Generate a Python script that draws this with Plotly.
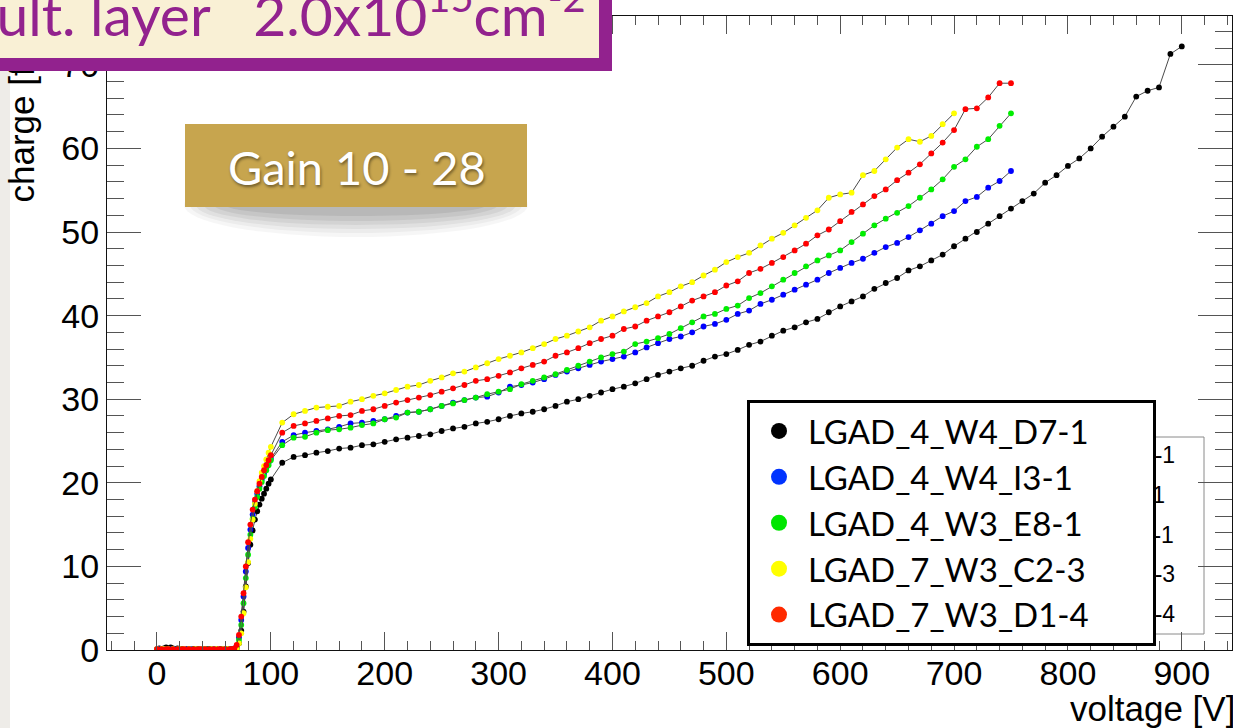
import plotly.graph_objects as go

# ---------------------------------------------------------------- data
# bias voltage settings [V]: fine scan through the gain-layer depletion, then 10 V steps
VOLT_SCAN = [0, 2, 4, 6, 8, 10, 12, 14, 16, 18, 20, 22, 24, 26, 28, 30, 32, 34, 36, 38,
             40, 42, 44, 46, 48, 50, 52, 54, 56, 58, 60, 62, 64, 66, 68, 70, 72, 74, 76, 78,
             80, 82, 84, 86, 88, 90, 92, 94, 96, 98, 100]
VOLT_STEP = [110, 120, 130, 140, 150, 160, 170, 180, 190, 200,
             210, 220, 230, 240, 250, 260, 270, 280, 290, 300,
             310, 320, 330, 340, 350, 360, 370, 380, 390, 400,
             410, 420, 430, 440, 450, 460, 470, 480, 490, 500,
             510, 520, 530, 540, 550, 560, 570, 580, 590, 600,
             610, 620, 630, 640, 650, 660, 670, 680, 690, 700,
             710, 720, 730, 740, 750, 760, 770, 780, 790, 800,
             810, 820, 830, 840, 850, 860, 870, 880, 890, 900]

SENSOR_NAMES = ["LGAD_4_W4_D7-1", "LGAD_4_W4_I3-1", "LGAD_4_W3_E8-1",
                "LGAD_7_W3_C2-3", "LGAD_7_W3_D1-4"]

# collected charge on the fine scan (0-100 V)
CHARGE_SCAN_D7_1 = [0.1, 0.2, 0.1, 0.2, 0.3, 0.2, 0.3, 0.2, 0.1, 0.2, 0.1, 0.1, 0.0, 0.1, 0.1,
                    0.0, 0.1, 0.1, 0.0, 0.1, 0.0, 0.1, 0.1, 0.0, 0.1, 0.0, 0.1, 0.0, 0.1, 0.1,
                    0.0, 0.1, 0.0, 0.1, 0.1,
                    0.2, 0.8, 2.3, 4.6, 7.6, 10.4, 12.6, 14.3, 15.6, 16.6, 17.4, 18.1, 18.7,
                    19.3, 19.9, 20.4]
CHARGE_SCAN_I3_1 = [0.0, 0.1, 0.0, 0.1, 0.0, 0.0, 0.1, 0.0, 0.1, 0.0, 0.1, 0.0, 0.0, 0.1, 0.0,
                    0.1, 0.0, 0.0, 0.1, 0.0, 0.1, 0.0, 0.0, 0.1, 0.0, 0.1, 0.0, 0.0, 0.1, 0.0,
                    0.1, 0.0, 0.1, 0.1, 0.2,
                    0.4, 1.5, 3.6, 6.4, 9.4, 12.2, 14.4, 16.2, 17.6, 18.7, 19.6, 20.4, 21.1,
                    21.8, 22.4, 22.9]
CHARGE_SCAN_E8_1 = [0.0, 0.0, 0.1, 0.0, 0.1, 0.0, 0.0, 0.1, 0.0, 0.1, 0.0, 0.1, 0.0, 0.0, 0.1,
                    0.0, 0.1, 0.0, 0.1, 0.0, 0.0, 0.1, 0.0, 0.1, 0.0, 0.0, 0.1, 0.0, 0.1, 0.0,
                    0.0, 0.1, 0.0, 0.1, 0.1,
                    0.3, 1.2, 3.0, 5.6, 8.6, 11.4, 13.8, 15.7, 17.1, 18.3, 19.3, 20.1, 20.8,
                    21.5, 22.1, 22.7]
CHARGE_SCAN_C2_3 = [0.1, 0.0, 0.1, 0.1, 0.0, 0.1, 0.0, 0.1, 0.0, 0.0, 0.1, 0.0, 0.1, 0.0, 0.1,
                    0.0, 0.0, 0.1, 0.0, 0.1, 0.0, 0.1, 0.0, 0.0, 0.1, 0.0, 0.1, 0.0, 0.0, 0.1,
                    0.0, 0.1, 0.0, 0.0, 0.1,
                    0.2, 0.8, 2.0, 4.4, 7.5, 10.5, 13.3, 15.6, 17.5, 19.0, 20.2, 21.2, 22.0,
                    22.8, 23.6, 24.3]
CHARGE_SCAN_D1_4 = [0.1, 0.0, 0.1, 0.0, 0.1, 0.1, 0.0, 0.1, 0.0, 0.1, 0.0, 0.1, 0.1, 0.0, 0.1,
                    0.0, 0.1, 0.0, 0.1, 0.1, 0.0, 0.1, 0.0, 0.1, 0.0, 0.1, 0.0, 0.1, 0.1, 0.0,
                    0.1, 0.0, 0.1, 0.1, 0.2,
                    0.6, 1.8, 4.0, 6.8, 10.0, 12.9, 15.0, 16.8, 18.0, 19.0, 19.9, 20.7, 21.5,
                    22.1, 22.7, 23.3]

# collected charge on the 10 V steps (from 110 V up to each sensor's last point)
CHARGE_STEP_D7_1 = [22.4, 23.1, 23.3, 23.6, 23.8, 24.1, 24.2, 24.5, 24.6, 24.9,
                    25.2, 25.4, 25.6, 25.8, 26.2, 26.5, 26.7, 27.1, 27.3, 27.6,
                    28.0, 28.3, 28.5, 28.8, 29.2, 29.7, 30.0, 30.4, 30.8, 31.2,
                    31.5, 31.9, 32.4, 32.9, 33.3, 33.7, 34.0, 34.6, 35.1, 35.4,
                    35.9, 36.5, 36.9, 37.6, 38.2, 38.6, 39.2, 39.6, 40.4, 41.1,
                    41.7, 42.3, 43.2, 43.9, 44.5, 45.4, 45.9, 46.6, 47.3, 48.3,
                    49.2, 50.0, 51.0, 51.9, 52.8, 53.7, 54.6, 55.9, 56.8, 57.9,
                    58.8, 60.0, 61.4, 62.6, 63.8, 66.2, 66.9, 67.3, 71.3, 72.2]
CHARGE_STEP_I3_1 = [24.9, 25.7, 26.0, 26.2, 26.4, 26.7, 27.1, 27.2, 27.4, 27.6,
                    28.0, 28.4, 28.5, 28.8, 29.2, 29.6, 29.9, 30.2, 30.3, 30.8,
                    31.5, 31.7, 32.0, 32.4, 32.9, 33.3, 33.7, 34.1, 34.5, 34.8,
                    35.1, 35.6, 36.2, 36.7, 37.2, 37.5, 38.0, 38.7, 39.0, 39.5,
                    40.2, 40.6, 41.4, 41.9, 42.5, 43.1, 43.7, 44.3, 45.1, 45.7,
                    46.3, 46.8, 47.5, 48.2, 48.7, 49.4, 50.2, 51.0, 51.9, 52.5,
                    53.7, 54.2, 55.3, 56.1, 57.3]
CHARGE_STEP_E8_1 = [24.5, 25.4, 25.5, 26.0, 26.3, 26.4, 26.6, 26.9, 27.1, 27.6,
                    27.8, 28.4, 28.5, 28.8, 29.2, 29.5, 29.9, 30.2, 30.6, 30.9,
                    31.2, 31.8, 32.2, 32.6, 33.0, 33.5, 34.0, 34.5, 35.0, 35.4,
                    35.7, 36.6, 36.9, 37.3, 37.8, 38.5, 39.2, 39.9, 40.2, 40.8,
                    41.2, 42.1, 42.7, 43.5, 44.3, 45.1, 45.9, 46.6, 47.2, 47.8,
                    48.8, 49.8, 50.8, 51.6, 52.3, 53.1, 54.1, 55.1, 56.3, 57.8,
                    58.7, 60.2, 61.1, 62.7, 64.2]
CHARGE_STEP_C2_3 = [27.2, 28.2, 28.6, 29.0, 29.1, 29.2, 29.7, 30.0, 30.4, 30.7,
                    31.1, 31.5, 31.7, 32.2, 32.6, 33.1, 33.3, 33.8, 34.3, 34.8,
                    35.2, 35.6, 36.1, 36.6, 37.2, 37.6, 38.1, 38.6, 39.4, 39.9,
                    40.5, 41.0, 41.5, 42.3, 42.8, 43.5, 44.0, 44.8, 45.5, 46.4,
                    47.0, 47.5, 48.4, 49.2, 49.9, 50.8, 51.7, 52.6, 54.1, 54.5,
                    54.7, 56.8, 57.3, 58.7, 60.1, 61.1, 60.8, 61.5, 62.9, 64.2]
CHARGE_STEP_D1_4 = [26.0, 26.8, 27.1, 27.4, 27.7, 28.0, 28.1, 28.6, 28.8, 29.2,
                    29.6, 29.9, 30.2, 30.5, 30.9, 31.3, 31.7, 32.2, 32.4, 32.8,
                    33.2, 33.7, 34.1, 34.5, 35.2, 35.6, 36.1, 36.7, 37.2, 37.6,
                    38.4, 38.7, 39.4, 39.9, 40.4, 41.1, 41.8, 42.3, 42.8, 43.6,
                    44.1, 45.1, 45.6, 46.3, 47.0, 47.8, 48.6, 49.6, 50.3, 51.3,
                    52.4, 53.3, 54.3, 55.1, 56.2, 57.1, 58.1, 59.4, 60.7, 62.2,
                    64.7, 64.8, 66.1, 67.8, 67.8]

X_TICKS = [0, 100, 200, 300, 400, 500, 600, 700, 800, 900]
Y_TICKS = [0, 10, 20, 30, 40, 50, 60, 70]

# ---------------------------------------------------------------- styling
MARKER_COLORS = ["#000000", "#0000ff", "#00ee00", "#ffff00", "#ff0000"]
LEGEND_COLORS = ["#000000", "#0033ff", "#00e600", "#ffff00", "#ff2a00"]
LINE_COLOR = "#4a4a4a"
PURPLE = "#92228e"
CREAM = "#f9f0d5"
GOLD = "#c7a54e"
AXIS_FONT = "Liberation Sans, Arial, Helvetica, sans-serif"
SLIDE_FONT = "Lato, 'Noto Sans', sans-serif"

# frame of the plotting area in page pixels
W, H = 1233, 728
L, R, T, B = 107, 1232, 16, 650


def fx(px):
    return (px - L) / (R - L)


def fy(py):
    return (B - py) / (B - T)


scan_sets = [CHARGE_SCAN_D7_1, CHARGE_SCAN_I3_1, CHARGE_SCAN_E8_1,
             CHARGE_SCAN_C2_3, CHARGE_SCAN_D1_4]
step_sets = [CHARGE_STEP_D7_1, CHARGE_STEP_I3_1, CHARGE_STEP_E8_1,
             CHARGE_STEP_C2_3, CHARGE_STEP_D1_4]

fig = go.Figure()

# sensor curves: thin connecting line underneath, coloured points on top
for name, color, scan, step in zip(SENSOR_NAMES, MARKER_COLORS, scan_sets, step_sets):
    volts = VOLT_SCAN + VOLT_STEP[:len(step)]
    charge = scan + step
    fig.add_trace(go.Scatter(x=volts, y=charge, mode="lines",
                             line=dict(color=LINE_COLOR, width=1),
                             showlegend=False, hoverinfo="skip"))
    fig.add_trace(go.Scatter(x=volts, y=charge, mode="markers", name=name,
                             marker=dict(color=color, size=5.8, line=dict(width=0)),
                             showlegend=False))

# legend entries (large dots only); trailing no-break spaces widen the box
PAD = "\u00a0" * 7
for name, color in zip(SENSOR_NAMES, LEGEND_COLORS):
    fig.add_trace(go.Scatter(x=[None], y=[None], mode="markers", name=name + PAD,
                             marker=dict(color=color, size=16), showlegend=True))

# original ROOT legend partly hidden behind the slide legend
BACK_LEGEND_X = [fx(977)] * 5
BACK_LEGEND_Y = [fy(457), fy(497), fy(537), fy(576), fy(616)]
fig.add_trace(go.Scatter(x=BACK_LEGEND_X, y=BACK_LEGEND_Y, text=SENSOR_NAMES,
                         mode="text", textposition="middle right",
                         textfont=dict(family=AXIS_FONT, size=23, color="black"),
                         xaxis="x2", yaxis="y2", showlegend=False, hoverinfo="skip",
                         cliponaxis=False))

axis_common = dict(showline=True, linecolor="#111111", linewidth=1, mirror="ticks",
                   ticks="inside", tickcolor="#555555", tickwidth=1,
                   showgrid=False, zeroline=False,
                   tickfont=dict(family=AXIS_FONT, size=34, color="black"))

fig.update_layout(
    width=W, height=H, autosize=False,
    margin=dict(l=L, r=W - R, t=T, b=H - B, pad=0),
    paper_bgcolor="white", plot_bgcolor="white",
    xaxis=dict(range=[-43.9, 944.1], tickvals=X_TICKS, ticklen=18,
               ticklabelstandoff=-7,
               minor=dict(ticks="inside", ticklen=9, dtick=20, tick0=0,
                          tickcolor="#555555", showgrid=False),
               **axis_common),
    yaxis=dict(range=[0, 75.84], tickvals=Y_TICKS, ticklen=34,
               minor=dict(ticks="inside", ticklen=17, dtick=2, tick0=0,
                          tickcolor="#555555", showgrid=False),
               **axis_common),
    xaxis2=dict(overlaying="x", range=[0, 1], visible=False),
    yaxis2=dict(overlaying="y", range=[0, 1], visible=False),
    legend=dict(x=fx(747), y=fy(400), xanchor="left", yanchor="top",
                bgcolor="white", bordercolor="black", borderwidth=3,
                itemwidth=48, tracegroupgap=0,
                font=dict(family=SLIDE_FONT, size=33, color="black")),
    showlegend=True,
)

shapes = [
    # slide background strip at the left edge
    dict(type="rect", xref="paper", yref="paper", x0=fx(-30), x1=fx(10),
         y0=fy(760), y1=fy(-30), fillcolor="#eeece8", line=dict(width=0), layer="below"),
    # frame of the original legend box
    dict(type="rect", xref="paper", yref="paper", x0=fx(880), x1=fx(1204),
         y0=fy(634), y1=fy(437), fillcolor="white", line=dict(color="#8a8a8a", width=1),
         layer="below"),
]
# soft drop shadow under the gain label: stacked translucent ellipses
for half_w, half_h, alpha in [(172, 32, 0.035), (166, 28, 0.04), (160, 24, 0.05),
                              (152, 20, 0.055), (142, 16, 0.06), (130, 11, 0.07)]:
    shapes.append(dict(type="circle", xref="paper", yref="paper",
                       x0=fx(356 - half_w), x1=fx(356 + half_w),
                       y0=fy(205 + half_h), y1=fy(205 - half_h),
                       fillcolor="rgba(0,0,0,%.3f)" % alpha, line=dict(width=0),
                       layer="above"))
# gain label plate
shapes.append(dict(type="rect", xref="paper", yref="paper", x0=fx(185), x1=fx(527),
                   y0=fy(207), y1=fy(124), fillcolor=GOLD, line=dict(width=0),
                   layer="above"))
fig.update_layout(shapes=shapes)

annotations = [
    # y-axis title (upper part runs under the title plate)
    dict(text="charge [fC]", textangle=-90, xref="paper", yref="paper",
         x=fx(21), y=fy(205), xanchor="center", yanchor="bottom", showarrow=False,
         font=dict(family=AXIS_FONT, size=35, color="black")),
    # title plate
    dict(text=" ", xref="paper", yref="paper", x=fx(612), y=fy(71),
         xanchor="right", yanchor="bottom", showarrow=False,
         width=606, height=65, bgcolor=CREAM, bordercolor=PURPLE,
         borderwidth=13, borderpad=0),
    dict(text="Mult. layer\u00a0\u00a0 2.0x10<sup>15</sup>cm<sup>-2</sup>",
         xref="paper", yref="paper",
         x=fx(588), y=fy(50), xanchor="right", yanchor="bottom", showarrow=False,
         font=dict(family=SLIDE_FONT, size=57, color=PURPLE)),
    # gain label text
    dict(text="Gain 10 - 28", xref="paper", yref="paper",
         x=fx(357), y=fy(197), xanchor="center", yanchor="bottom", showarrow=False,
         font=dict(family=SLIDE_FONT, size=47, color="white",
                   shadow="1px 2px 3px rgba(0,0,0,0.45)")),
    # x-axis title, right-aligned at the end of the axis
    dict(text="voltage [V]", xref="paper", yref="paper",
         x=fx(1237), y=fy(730), xanchor="right", yanchor="bottom", showarrow=False,
         font=dict(family=AXIS_FONT, size=35, color="black")),
]
fig.update_layout(annotations=annotations)

fig.write_html("out.html")
